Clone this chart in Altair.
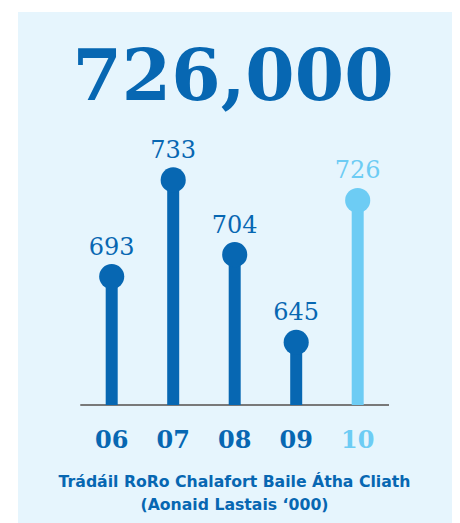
import altair as alt
import pandas as pd

# ---- data ----
years = ["06", "07", "08", "09", "10"]
values = [693, 733, 704, 645, 726]
groups = ["past", "past", "past", "past", "current"]
headline = "726,000"
caption = ["Trádáil RoRo Chalafort Baile Átha Cliath", "(Aonaid Lastais ‘000)"]

DARK = "#0767B2"
LIGHT = "#6DCCF4"
PANEL = "#E6F5FD"

df = pd.DataFrame({"year": years, "value": values, "group": groups, "zero": [0] * len(years)})

W, H = 434, 511

x = alt.X("year:N", scale=alt.Scale(type="point", padding=0, range=[93.7, 339.7]), axis=None, sort=years)
y_scale = alt.Scale(type="pow", exponent=10, domain=[0, 775], range=[393, 0], zero=True, nice=False)
color = alt.Color("group:N", scale=alt.Scale(domain=["past", "current"], range=[DARK, LIGHT]), legend=None)

base = alt.Chart(df)

stems = base.mark_rule(strokeWidth=12).encode(
    x=x,
    y=alt.Y("value:Q", scale=y_scale, axis=None),
    y2="zero:Q",
    color=color,
)

baseline = base.mark_rule(color="#7a7a7a", strokeWidth=1.5).encode(
    x=alt.value(62.7), x2=alt.value(371), y=alt.Y("zero:Q", scale=y_scale, axis=None)
)

dots = base.mark_circle(size=630, opacity=1).encode(
    x=x, y=alt.Y("value:Q", scale=y_scale, axis=None), color=color
)

labels = base.mark_text(
    font="DejaVu Serif", fontSize=24, baseline="alphabetic", align="center", dy=-22
).encode(x=x, y=alt.Y("value:Q", scale=y_scale, axis=None), text="value:Q", color=color)

year_labels = base.mark_text(
    font="DejaVu Serif", fontWeight="bold", fontSize=24, baseline="alphabetic", align="center"
).encode(x=x, y=alt.value(436), text="year:N", color=color)

one = pd.DataFrame({"k": [0]})

title = alt.Chart(one).mark_text(
    text=headline, font="DejaVu Serif", fontWeight="bold", fontSize=71, baseline="alphabetic",
    align="center", color=DARK
).encode(x=alt.value(215), y=alt.value(88))

cap = alt.Chart(one).mark_text(
    text=caption, font="DejaVu Sans", fontWeight="bold", fontSize=15.7, baseline="alphabetic",
    align="center", color=DARK, lineHeight=22.7
).encode(x=alt.value(216.5), y=alt.value(475.3))

chart = alt.layer(baseline, stems, dots, labels, year_labels, title, cap).properties(
    width=W, height=H, padding={"left": 10, "top": 4, "right": 0, "bottom": 0},
    background="white",
).configure_view(fill=PANEL, strokeWidth=0)

chart.save("out.html", embed_options={"renderer": "svg", "actions": False})
